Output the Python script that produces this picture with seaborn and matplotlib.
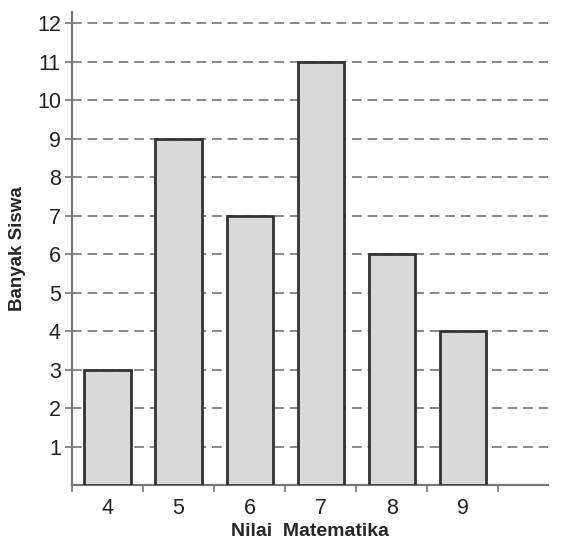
import numpy as np
import pandas as pd
import matplotlib.pyplot as plt
import seaborn as sns

# data
nilai = ["4", "5", "6", "7", "8", "9"]
banyak = [3, 9, 7, 11, 6, 4]
y_ticks = list(range(1, 13))

df = pd.DataFrame({"Nilai": nilai, "Banyak": banyak})

sns.set_style("white")
plt.rcParams["font.family"] = ["Liberation Sans", "DejaVu Sans"]

fig = plt.figure(figsize=(5.78, 5.42), dpi=100)
ax = fig.add_axes([0.1246, 0.105, 0.8234, 0.873])

sns.barplot(data=df, x="Nilai", y="Banyak", order=nilai, color="#d9d9d9",
            edgecolor="#333333", linewidth=2, width=0.65, saturation=1, ax=ax, zorder=3)

ax.set_xlim(-0.5, 6.2)
ax.set_ylim(0, 12.3)
ax.set_yticks(y_ticks)
ax.set_yticklabels([str(t) for t in y_ticks], fontsize=15.5, color="#222222")
ax.yaxis.grid(True, linestyle=(0, (5, 3)), color="#888888", linewidth=1.4, zorder=0)
ax.set_axisbelow(True)

# category labels in centre, tick marks at boundaries
ax.set_xticks(range(len(nilai)))
ax.set_xticklabels(nilai, fontsize=15.5, color="#222222")
ax.set_xticks(np.arange(-0.5, 6.5, 1), minor=True)
ax.tick_params(axis="both", which="both", bottom=True, left=True)
ax.tick_params(axis="x", which="major", length=0, pad=9)
ax.tick_params(axis="x", which="minor", length=5, width=1.2, color="#777777", direction="out")
ax.tick_params(axis="y", which="major", length=5, width=1.2, color="#777777", pad=3)

for side in ["top", "right"]:
    ax.spines[side].set_visible(False)
for side in ["left", "bottom"]:
    ax.spines[side].set_color("#777777")
    ax.spines[side].set_linewidth(1.6)

ax.set_xlabel("Nilai  Matematika", fontsize=14, fontweight="bold", labelpad=3)
ax.set_ylabel("Banyak Siswa", fontsize=13.5, fontweight="bold", labelpad=8)

fig.savefig("out.png", dpi=100)
